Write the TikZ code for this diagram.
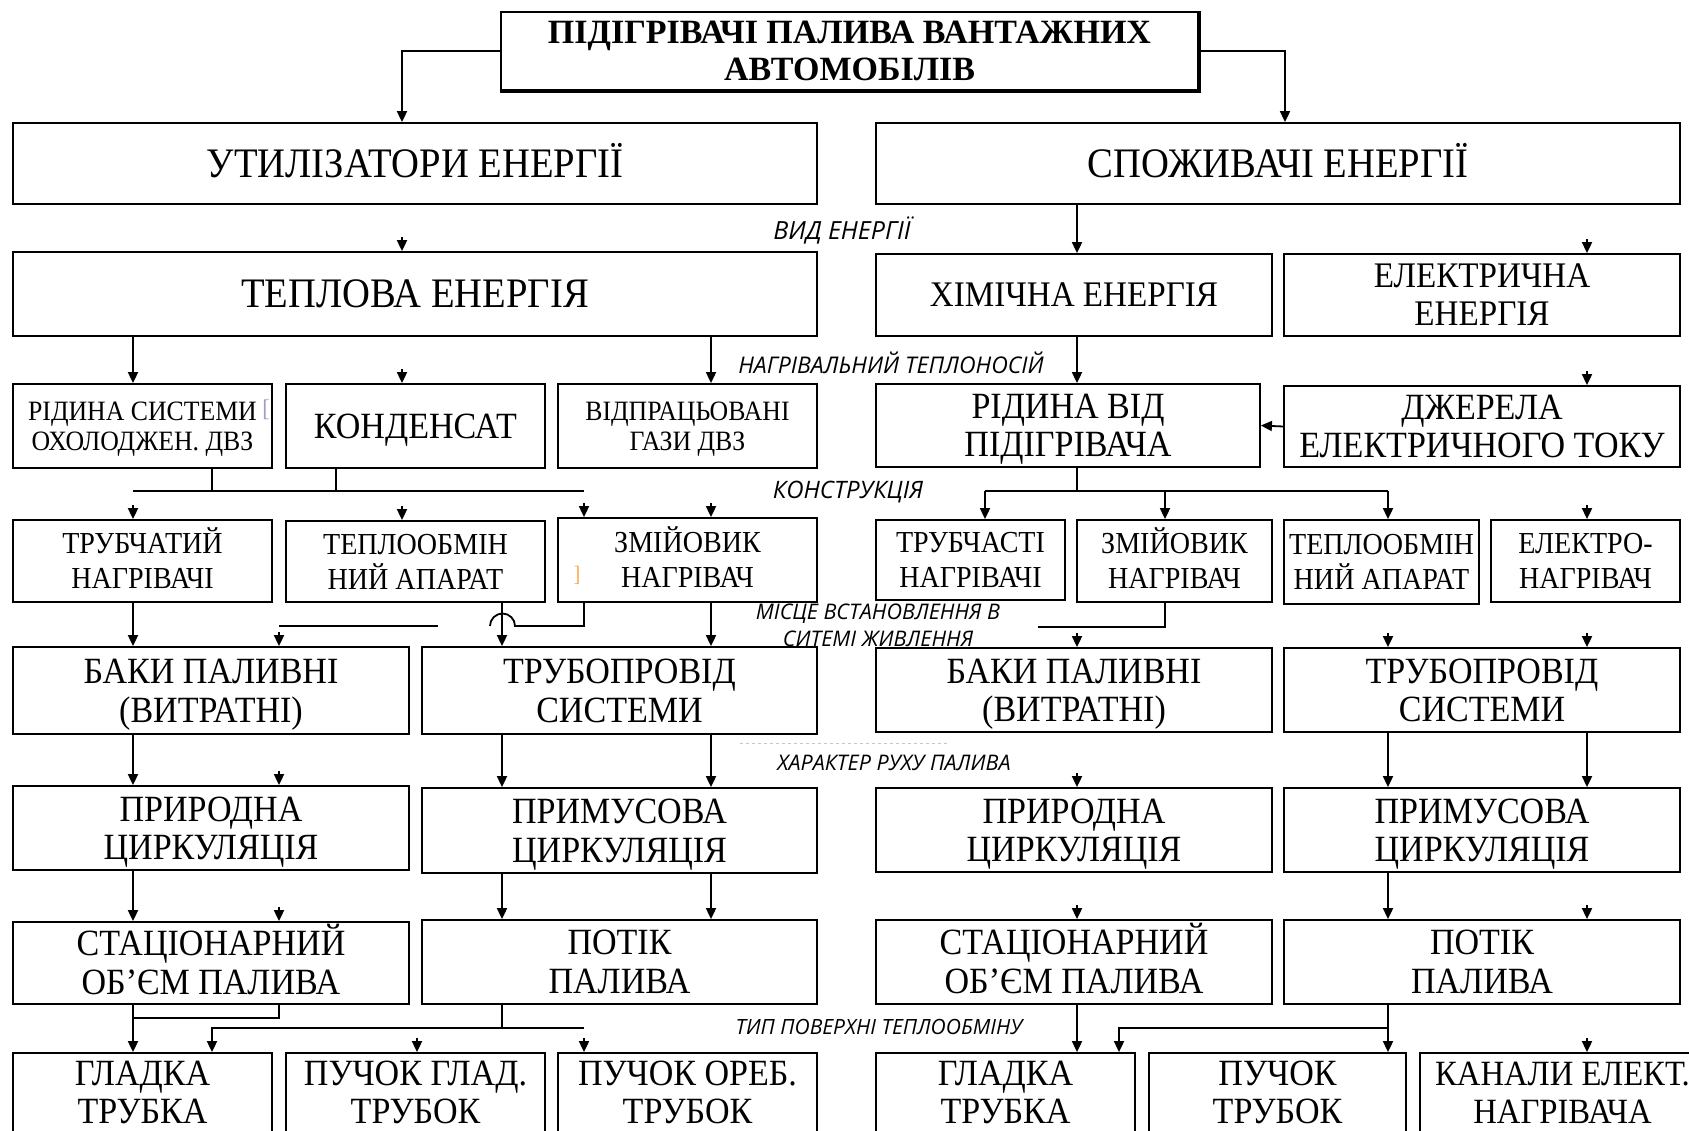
\documentclass[tikz,border=0pt]{standalone}
\usepackage{fontspec}
\setmainfont{Liberation Serif}[FakeStretch=0.92]
\newfontfamily\titlefont{Liberation Serif}
\newfontfamily\notefont{Open Sans}
\usetikzlibrary{arrows.meta,calc}

\begin{document}
\begin{tikzpicture}[
    x=1pt, y=1pt,
    arr/.style={-{Triangle[length=11pt,width=10pt]}, line width=1.8pt},
    link/.style={line width=1.8pt},
    box/.style={draw, line width=1.8pt, inner sep=2pt, align=center, text=black, text depth=0pt},
    fbig/.style={font=\fontsize{42}{46}\selectfont, text height=27.5pt},
    fmid/.style={font=\fontsize{36}{38}\selectfont, text height=23.6pt},
    fmidtwo/.style={font=\fontsize{36}{38}\selectfont, text height=61.6pt},
    fsmall/.style={font=\fontsize{28}{30}\selectfont, text height=48.3pt},
    frow/.style={font=\fontsize{30.5}{35}\selectfont, text height=55pt},
    fnorm/.style={font=\fontsize{37}{38.5}\selectfont, text height=63.5pt},
    fbottom/.style={font=\fontsize{37}{38.5}\selectfont, text height=58.5pt},
    note/.style={align=center, text=black}
]

\useasboundingbox (0,0) rectangle (1689,-1130);
\clip (0,0) rectangle (1689,-1130);
\fill[white] (0,0) rectangle (1689,-1130);

% columns used by the connectors
\coordinate (xa) at (133,0);
\coordinate (xb) at (212,0);
\coordinate (xc) at (279,0);
\coordinate (xd) at (336,0);
\coordinate (xe) at (402,0);
\coordinate (xf) at (417,0);
\coordinate (xg) at (502,0);
\coordinate (xh) at (584,0);
\coordinate (xi) at (711,0);
\coordinate (xk) at (985,0);
\coordinate (xl) at (1077,0);
\coordinate (xm) at (1119,0);
\coordinate (xn) at (1165,0);
\coordinate (xo) at (1388,0);
\coordinate (xp) at (1587,0);
\coordinate (xq) at (1285,0);

% title
\node[box, line width=2.2pt, font=\titlefont\bfseries\fontsize{34}{37}\selectfont, text height=59.3pt, minimum width=697, minimum height=78] (title) at (849.5,-51) {ПІДІГРІВАЧІ ПАЛИВА ВАНТАЖНИХ\\АВТОМОБІЛІВ};
\draw[line width=3.6pt] (title.north east) -- (title.south east) -- (title.south west);

% level 1
\node[box, fbig, minimum width=804, minimum height=81] (util) at (415,-163.5) {УТИЛІЗАТОРИ ЕНЕРГІЇ};
\node[box, fbig, minimum width=804, minimum height=81] (spozh) at (1278,-163.5) {СПОЖИВАЧІ ЕНЕРГІЇ};

% level 2
\node[box, fbig, minimum width=804, minimum height=84] (teplo) at (415,-294) {ТЕПЛОВА ЕНЕРГІЯ};
\node[box, fmid, minimum width=396, minimum height=82] (khim) at (1074,-295) {ХІМІЧНА ЕНЕРГІЯ};
\node[box, fmidtwo, minimum width=396, minimum height=82] (elek) at (1482,-295) {ЕЛЕКТРИЧНА\\ЕНЕРГІЯ};

% level 3
\node[box, fsmall, minimum width=259, minimum height=84] (ridsys) at (142.5,-426) {РІДИНА СИСТЕМИ\\ОХОЛОДЖЕН. ДВЗ};
\node[box, font=\fontsize{37}{38}\selectfont, text height=24.2pt, minimum width=259, minimum height=84] (konden) at (415.5,-426) {КОНДЕНСАТ};
\node[box, fsmall, minimum width=259, minimum height=84] (vidpr) at (687.5,-426) {ВІДПРАЦЬОВАНІ\\ГАЗИ ДВЗ};
\node[box, fnorm, text height=62.7pt, minimum width=384, minimum height=83] (ridvid) at (1068,-425.5) {РІДИНА ВІД\\ПІДІГРІВАЧА};
\node[box, fnorm, text height=62.7pt, minimum width=396, minimum height=81] (dzher) at (1482,-426.5) {ДЖЕРЕЛА\\ЕЛЕКТРИЧНОГО ТОКУ};

% level 4
\node[box, frow, minimum width=259, minimum height=82] (trubl) at (142.5,-561) {ТРУБЧАТИЙ\\НАГРІВАЧІ};
\node[box, frow, minimum width=259, minimum height=81] (teplol) at (415.5,-561.5) {ТЕПЛООБМІН\\НИЙ АПАРАТ};
\node[box, frow, minimum width=259, minimum height=84] (zmiyl) at (687.5,-560) {ЗМІЙОВИК\\НАГРІВАЧ};
\node[box, frow, minimum width=189, minimum height=80] (trubr) at (970.5,-560) {ТРУБЧАСТІ\\НАГРІВАЧІ};
\node[box, frow, minimum width=195, minimum height=82] (zmiyr) at (1174.5,-561) {ЗМІЙОВИК\\НАГРІВАЧ};
\node[box, frow, minimum width=195, minimum height=84] (teplor) at (1381.5,-562) {ТЕПЛООБМІН\\НИЙ АПАРАТ};
\node[box, frow, minimum width=189, minimum height=82] (elnagr) at (1585.5,-561) {ЕЛЕКТРО-\\НАГРІВАЧ};

% level 5
\node[box, fnorm, minimum width=396, minimum height=87] (bakyl) at (211,-690.5) {БАКИ ПАЛИВНІ\\(ВИТРАТНІ)};
\node[box, fnorm, minimum width=395, minimum height=87] (truboprl) at (619.5,-690.5) {ТРУБОПРОВІД\\СИСТЕМИ};
\node[box, fnorm, minimum width=396, minimum height=84] (bakyr) at (1074,-690) {БАКИ ПАЛИВНІ\\(ВИТРАТНІ)};
\node[box, fnorm, minimum width=396, minimum height=84] (truboprr) at (1482,-690) {ТРУБОПРОВІД\\СИСТЕМИ};

% level 6
\node[box, fnorm, minimum width=396, minimum height=84] (pryrl) at (211,-828) {ПРИРОДНА\\ЦИРКУЛЯЦІЯ};
\node[box, fnorm, minimum width=395, minimum height=85] (prymusl) at (619.5,-830.5) {ПРИМУСОВА\\ЦИРКУЛЯЦІЯ};
\node[box, fnorm, minimum width=396, minimum height=84] (pryrr) at (1074,-830) {ПРИРОДНА\\ЦИРКУЛЯЦІЯ};
\node[box, fnorm, minimum width=396, minimum height=84] (prymusr) at (1482,-830) {ПРИМУСОВА\\ЦИРКУЛЯЦІЯ};

% level 7
\node[box, fnorm, text height=62.7pt, minimum width=396, minimum height=82] (stacl) at (211,-963) {СТАЦІОНАРНИЙ\\ОБ’ЄМ ПАЛИВА};
\node[box, fnorm, text height=62.7pt, minimum width=395, minimum height=84] (potikl) at (619.5,-962) {ПОТІК\\ПАЛИВА};
\node[box, fnorm, text height=62.7pt, minimum width=396, minimum height=84] (stacr) at (1074,-962) {СТАЦІОНАРНИЙ\\ОБ’ЄМ ПАЛИВА};
\node[box, fnorm, text height=62.7pt, minimum width=396, minimum height=84] (potikr) at (1482,-962) {ПОТІК\\ПАЛИВА};

% level 8 (cut by the lower edge)
\node[box, fbottom, minimum width=259, minimum height=83] (gladl) at (142.5,-1094.5) {ГЛАДКА\\ТРУБКА};
\node[box, fbottom, minimum width=259, minimum height=83] (puchgl) at (415.5,-1094.5) {ПУЧОК ГЛАД.\\ТРУБОК};
\node[box, fbottom, minimum width=259, minimum height=83] (puchor) at (687.5,-1094.5) {ПУЧОК ОРЕБ.\\ТРУБОК};
\node[box, fbottom, minimum width=259, minimum height=83] (gladr) at (1005.5,-1094.5) {ГЛАДКА\\ТРУБКА};
\node[box, fbottom, minimum width=257, minimum height=83] (puchr) at (1277.5,-1094.5) {ПУЧОК\\ТРУБОК};
\node[box, fbottom, font=\fontsize{35.5}{38.5}\selectfont, minimum width=285, minimum height=83] (kanaly) at (1562.5,-1094.5) {КАНАЛИ ЕЛЕКТ.\\НАГРІВАЧА};

% criteria
\node[note, font=\notefont\itshape\fontsize{25}{26}\selectfont] (vid) at (842,-230) {ВИД ЕНЕРГІЇ};
\node[note, font=\notefont\itshape\fontsize{23}{26}\selectfont] (nosiy) at (891,-363) {НАГРІВАЛЬНИЙ ТЕПЛОНОСІЙ};
\node[note, font=\notefont\itshape\fontsize{24}{26}\selectfont] (konstr) at (848,-492) {КОНСТРУКЦІЯ};
\node[note, font=\notefont\itshape\fontsize{21.5}{27}\selectfont] (misce) at (878,-625) {МІСЦЕ ВСТАНОВЛЕННЯ В\\СИТЕМІ ЖИВЛЕННЯ};
\node[note, font=\notefont\itshape\fontsize{21.5}{26}\selectfont] (rukh) at (894,-763) {ХАРАКТЕР РУХУ ПАЛИВА};
\node[note, font=\notefont\itshape\fontsize{21}{26}\selectfont] (typ) at (879,-1027) {ТИП ПОВЕРХНІ ТЕПЛООБМІНУ};

% scan marks
\node[font=\fontsize{24}{24}\selectfont, text=blue!30!gray!60] (mark1) at (266,-410) {[};
\node[font=\fontsize{22}{22}\selectfont, text=orange!70] (mark2) at (577,-575) {]};
\draw[gray!45, dashed, line width=1pt] (740,-743) -- (947,-743);

% bus lines
\coordinate (bus1) at (0,-491);
\coordinate (bus2) at (0,-626);
\coordinate (bus3) at (0,-1018);
\coordinate (bus4) at (0,-1028);
\coordinate (hop) at (515,-626);
\coordinate (zend) at (1038,-627);

% connectors
\draw[arr] (title.west) -| (util.north -| xe);
\draw[arr] (title.east) -| (spozh.north -| xq);
\draw[arr] (spozh.south -| xl) -- (khim.north -| xl);
\draw[arr] (teplo.south -| xa) -- (ridsys.north -| xa);
\draw[arr] (teplo.south -| xi) -- (vidpr.north -| xi);
\draw[arr] (khim.south -| xl) -- (ridvid.north -| xl);
\draw[arr] (dzher.west) -- (ridvid.east);

\draw[link] (ridsys.south -| xb) -- (bus1 -| xb);
\draw[link] (konden.south -| xd) -- (bus1 -| xd);
\draw[link] (bus1 -| xa) -- (bus1 -| xh);

\draw[link] (ridvid.south -| xl) -- (bus1 -| xl);
\draw[link] (bus1 -| xk) -- (bus1 -| xo);
\draw[arr] (bus1 -| xk) -- (trubr.north -| xk);
\draw[arr] (bus1 -| xn) -- (zmiyr.north -| xn);
\draw[arr] (bus1 -| xo) -- (teplor.north -| xo);

\draw[arr] (trubl.south -| xa) -- (bakyl.north -| xa);
\draw[link] (bus2 -| xc) -- ($(bus2 -| xe)+(36,0)$);
\draw[arr] (teplol.south -| xg) -- (truboprl.north -| xg);
\draw[link] (zmiyl.south -| xh) |- (hop) arc[start angle=0, end angle=180, radius=12.5];
\draw[arr] (zmiyl.south -| xi) -- (truboprl.north -| xi);
\draw[link] (zmiyr.south -| xn) |- (zend);

\draw[arr] (bakyl.south -| xa) -- (pryrl.north -| xa);
\draw[arr] (truboprl.south -| xg) -- (prymusl.north -| xg);
\draw[arr] (truboprl.south -| xi) -- (prymusl.north -| xi);
\draw[arr] (truboprr.south -| xo) -- (prymusr.north -| xo);
\draw[arr] (truboprr.south -| xp) -- (prymusr.north -| xp);

\draw[arr] (pryrl.south -| xa) -- (stacl.north -| xa);
\draw[arr] (prymusl.south -| xg) -- (potikl.north -| xg);
\draw[arr] (prymusl.south -| xi) -- (potikl.north -| xi);
\draw[arr] (prymusr.south -| xo) -- (potikr.north -| xo);

\draw[arr] (stacl.south -| xa) -- (gladl.north -| xa);
\draw[link] (stacl.south -| xc) |- (bus3 -| xa);
\draw[link] (potikl.south -| xg) -- (bus4 -| xg);
\draw[arr] (bus4 -| xh) -- (bus4 -| xb) -- (gladl.north -| xb);
\draw[arr] (stacr.south -| xl) -- (gladr.north -| xl);
\draw[arr] (potikr.south -| xo) -- (puchr.north -| xo);
\draw[arr] (bus4 -| xo) -| (gladr.north -| xm);

% lone arrow heads
\foreach \n/\c in {teplo/xe, konden/xe, elek/xp, dzher/xp, trubl/xa, teplol/xe, zmiyl/xh, zmiyl/xi, elnagr/xp, bakyl/xc, bakyr/xl, truboprr/xo, truboprr/xp, pryrl/xc, pryrr/xl, stacl/xc, stacr/xl, potikr/xp, puchgl/xf, puchor/xh, kanaly/xp}
    \draw[arr] ($(\n.north -| \c)+(0,14)$) -- (\n.north -| \c);

\end{tikzpicture}
\end{document}
